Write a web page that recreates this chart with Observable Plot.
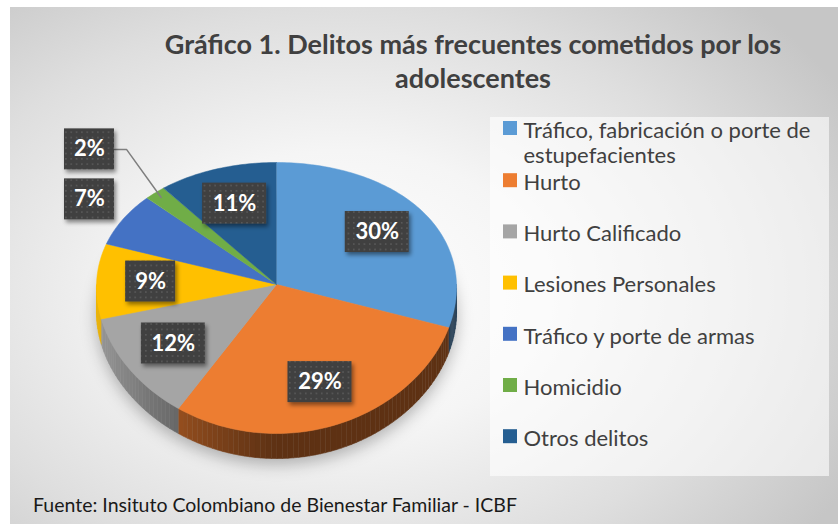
<!DOCTYPE html>
<html><head><meta charset="utf-8">
<script src="https://cdn.jsdelivr.net/npm/d3@7"></script>
<script src="https://cdn.jsdelivr.net/npm/@observablehq/plot@0.6"></script>
<style>
html,body{margin:0;padding:0;background:#fff;}
#wrap{position:absolute;left:10px;top:7px;width:828px;height:517px;overflow:hidden;
 background: radial-gradient(ellipse 70% 78% at 40% 55%, #ffffff 0%, #f5f5f5 35%, #dedede 70%, #c6c6c6 100%);
 font-family: Lato, "Open Sans", sans-serif;}
#title{position:absolute;left:103px;width:720px;top:20px;text-align:center;font-weight:700;font-size:27px;line-height:34px;color:#404040;}
#caption{position:absolute;left:23px;top:486px;font-size:19.5px;line-height:24px;color:#1a1a1a;white-space:nowrap;}
#chart{position:absolute;left:0;top:0;}
</style></head>
<body>
<div id="wrap">
 <div id="chart"></div>
 <div id="title">Gráfico 1. Delitos más frecuentes cometidos por los<br>adolescentes</div>
 <div id="caption">Fuente: Insituto Colombiano de Bienestar Familiar - ICBF</div>
</div>
<script>
// ---- data ----
const categories = ["Tráfico, fabricación o porte de estupefacientes","Hurto","Hurto Calificado","Lesiones Personales","Tráfico y porte de armas","Homicidio","Otros delitos"];
const values = [30, 29, 12, 9, 7, 2, 11];
const colors = ["#5B9BD5","#ED7D31","#A5A5A5","#FFC000","#4472C4","#70AD47","#255E91"];

// ---- geometry (page pixel space) ----
const W = 828, H = 517, OX = 10, OY = 7;
const cx = 276, cy = 284, rx = 180, ryT = 122, ryB = 149, depth = 25;
const a = (ryT + ryB) / 2, b = (ryB - ryT) / 2;
function P(t, r = 1, dz = 0) {
  const s = Math.sin(t), c = -Math.cos(t);
  return [cx + r * rx * s * (1 + 0.02 * c), cy + r * c * (a + b * c) + dz];
}
const total = d3.sum(values);
let acc = 0;
const slices = values.map((v, i) => {
  const t0 = acc / total * 2 * Math.PI; acc += v;
  const t1 = acc / total * 2 * Math.PI;
  return {i, v, t0, t1, mid: (t0 + t1) / 2};
});

// shadow
const shadow = [];
for (let k = 0; k <= 120; k++) { const [x, y] = P(2 * Math.PI * k / 120, 1.0, depth + 6); shadow.push({x, y}); }

// sides
const sides = [];
slices.forEach(sl => {
  const lo = Math.max(sl.t0, Math.PI / 2), hi = Math.min(sl.t1, 1.5 * Math.PI);
  if (hi <= lo) return;
  const n = Math.max(1, Math.ceil((hi - lo) / 0.03));
  for (let k = 0; k < n; k++) {
    const u0 = lo + (hi - lo) * k / n, u1 = lo + (hi - lo) * (k + 1) / n;
    const s = Math.sin((u0 + u1) / 2);
    const dk = s < 0 ? 2.6 + 2.4 * s : 2.6;
    const col = d3.color(colors[sl.i]).darker(dk).formatHex();
    const id = `s${sl.i}_${k}`;
    [[u0, 0], [u1, 0], [u1, depth], [u0, depth]].forEach(([u, dz]) => {
      const [x, y] = P(u, 1, dz); sides.push({id, x, y, color: col});
    });
  }
});

// top faces
const faces = [];
slices.forEach(sl => {
  const id = "f" + sl.i, color = colors[sl.i];
  faces.push({id, x: cx, y: cy, color});
  const n = Math.max(2, Math.ceil((sl.t1 - sl.t0) / 0.02));
  for (let k = 0; k <= n; k++) {
    const [x, y] = P(sl.t0 + (sl.t1 - sl.t0) * k / n);
    faces.push({id, x, y, color});
  }
});

// data labels
const labels = [];
const leaders = [];
let prevOut = null;
slices.forEach(sl => {
  const text = sl.v + "%";
  const w = 22 + 14 * text.length, h = 41;
  let x, y;
  const c = -Math.cos(sl.mid);
  if (sl.v >= 8) {
    [x, y] = P(sl.mid, 0.7);
  } else {
    x = cx - rx * 0.9 - w / 2;
    y = cy + 1.3 * c * (a + b * c);
    if (prevOut && y > prevOut - 50) y = prevOut - 50;
    prevOut = y;
    const edge = P(sl.mid, 0.95);
    const right = x + w / 2;
    if (Math.hypot(edge[0] - right, edge[1] - y) > 40) {
      const id = "l" + sl.i;
      leaders.push({id, x: right, y}, {id, x: right + 12, y}, {id, x: edge[0], y: edge[1]});
    }
  }
  labels.push({text, x, y, x1: x - w / 2, x2: x + w / 2, y1: y - h / 2, y2: y + h / 2});
});

// legend
const legY0 = 135, legDY = 51.2, legFS = 22;
const legend = categories.map((c, i) => ({c, color: colors[i], base: legY0 + i * legDY + (i > 0 ? 1 : 0)}));

const xs = {type: "linear", domain: [OX, OX + W], range: [0, W]};
const ys = {type: "linear", domain: [OY, OY + H], range: [0, H]};

const chart = Plot.plot({
  width: W, height: H, margin: 0,
  x: {...xs, axis: null}, y: {...ys, axis: null},
  color: {type: "identity"},
  style: {background: "transparent"},
  marks: [
    Plot.line(shadow, {x: "x", y: "y", fill: "#000", fillOpacity: 0.28, stroke: "none"}),
    Plot.line(sides, {x: "x", y: "y", z: "id", fill: "color", stroke: "color", strokeWidth: 0.6}),
    Plot.line(faces, {x: "x", y: "y", z: "id", fill: "color", stroke: "color", strokeWidth: 0.5}),
    Plot.line(leaders, {x: "x", y: "y", z: "id", stroke: "#7f7f7f", strokeWidth: 1.5}),
    Plot.rect(labels, {x1: "x1", x2: "x2", y1: "y1", y2: "y2", fill: "url(#dots)"}),
    Plot.text(labels, {x: "x", y: "y", text: "text", fill: "white", fontWeight: "bold", fontSize: 22, fontFamily: "Lato, 'Open Sans', sans-serif", lineAnchor: "middle"}),
    Plot.rect([{x1: 490, x2: 829, y1: 117, y2: 476}], {x1: "x1", x2: "x2", y1: "y1", y2: "y2", fill: "white", fillOpacity: 0.6}),
    Plot.rect(legend, {x1: () => 503, x2: () => 517, y1: d => d.base - 14, y2: d => d.base, fill: "color"}),
    Plot.text(legend, {x: () => 523, y: d => d.base - 0.71 * legFS, text: "c", textAnchor: "start", lineAnchor: "top", lineWidth: 15, lineHeight: 1.15, fontSize: legFS, fill: "#404040", fontFamily: "Lato, 'Open Sans', sans-serif"})
  ]
});

d3.select(chart).insert("defs", ":first-child").html(`
<pattern id="dots" width="5.33" height="5.33" patternUnits="userSpaceOnUse">
  <rect width="5.33" height="5.33" fill="#404040"/>
  <rect x="1.8" y="1.8" width="1.6" height="1.6" fill="#5a5a5a"/>
</pattern>
<filter id="blur" x="-20%" y="-20%" width="140%" height="140%"><feGaussianBlur stdDeviation="8"/></filter>
<filter id="drop" x="-30%" y="-30%" width="160%" height="160%"><feDropShadow dx="2" dy="3" stdDeviation="2" flood-color="#000" flood-opacity="0.45"/></filter>`);
const gs = Array.from(chart.children).filter(e => e.tagName.toLowerCase() === "g");
gs[0].setAttribute("filter", "url(#blur)");
gs[4].setAttribute("filter", "url(#drop)");
document.getElementById("chart").appendChild(chart);
</script>
</body></html>
